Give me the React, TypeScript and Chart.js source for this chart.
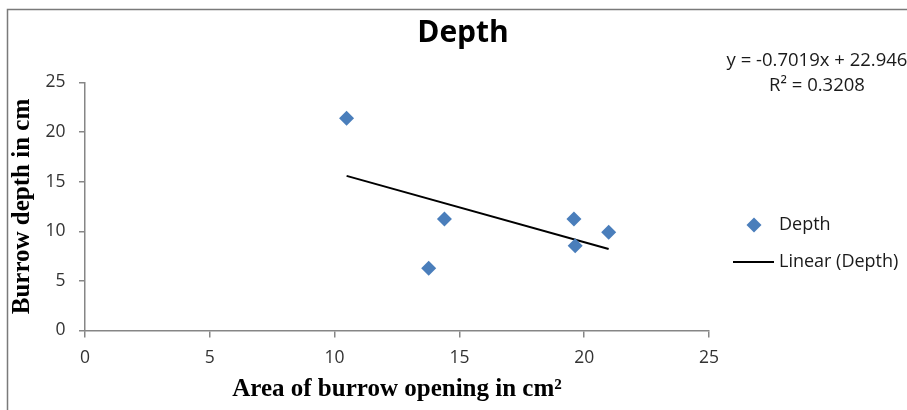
import React, { useEffect, useRef } from "react";
import { Chart, registerables } from "chart.js";

Chart.register(...registerables);

// ---- data ----
const areaValues = [10.48, 14.4, 13.77, 19.59, 19.64, 20.98];
const depthValues = [21.39, 11.24, 6.27, 11.24, 8.55, 9.9];
const trendSlope = -0.7019;
const trendIntercept = 22.946;
const rSquared = 0.3208;
const xTickValues = [0, 5, 10, 15, 20, 25];
const yTickValues = [0, 5, 10, 15, 20, 25];
const chartTitle = "Depth";
const seriesName = "Depth";
const trendName = "Linear (Depth)";
const xAxisTitle = "Area of burrow opening in cm²";
const yAxisTitle = "Burrow depth in cm";

const W = 907;
const H = 410;
const SANS = "'Open Sans', sans-serif";
const SERIF = "'Liberation Serif', 'Times New Roman', serif";
const BLUE = "#4A7EBB";
const AXIS = "#868686";

export default function App() {
  const ref = useRef<HTMLCanvasElement | null>(null);

  useEffect(() => {
    document.body.style.margin = "0";
    const canvas = ref.current;
    if (!canvas) return;

    const xMin = Math.min(...areaValues);
    const xMax = Math.max(...areaValues);
    const trendData = [xMin, xMax].map((x) => ({ x, y: trendSlope * x + trendIntercept }));
    const points = areaValues.map((x, i) => ({ x, y: depthValues[i] }));

    const decor = {
      id: "decor",
      afterDraw(chart: any) {
        const ctx = chart.ctx as CanvasRenderingContext2D;
        ctx.save();
        // outer border
        ctx.strokeStyle = "#7a7a7a";
        ctx.lineWidth = 1.5;
        ctx.beginPath();
        ctx.moveTo(7.5, H + 5);
        ctx.lineTo(7.5, 9.5);
        ctx.lineTo(W + 5, 9.5);
        ctx.stroke();

        // title
        ctx.fillStyle = "#000";
        ctx.font = `bold 30px ${SANS}`;
        ctx.textAlign = "center";
        ctx.textBaseline = "middle";
        ctx.fillText(chartTitle, 463, 33);

        // trendline equation
        ctx.font = `18.5px ${SANS}`;
        ctx.fillStyle = "#1a1a1a";
        const sign = trendIntercept >= 0 ? "+" : "-";
        ctx.fillText(`y = ${trendSlope}x ${sign} ${Math.abs(trendIntercept)}`, 817, 61);
        ctx.fillText(`R² = ${rSquared}`, 817, 86);

        // legend
        ctx.fillStyle = BLUE;
        ctx.beginPath();
        const cx = 754, cy = 225, r = 7.5;
        ctx.moveTo(cx, cy - r);
        ctx.lineTo(cx + r, cy);
        ctx.lineTo(cx, cy + r);
        ctx.lineTo(cx - r, cy);
        ctx.closePath();
        ctx.fill();
        ctx.strokeStyle = "#000";
        ctx.lineWidth = 2;
        ctx.beginPath();
        ctx.moveTo(733, 262);
        ctx.lineTo(774, 262);
        ctx.stroke();
        ctx.fillStyle = "#1a1a1a";
        ctx.textAlign = "left";
        ctx.font = `18px ${SANS}`;
        ctx.fillText(seriesName, 779, 225);
        ctx.fillText(trendName, 779, 262);
        ctx.restore();
      },
    };

    const chart = new Chart(canvas, {
      type: "scatter",
      data: {
        datasets: [
          {
            label: seriesName,
            data: points,
            pointStyle: "rectRot",
            pointRadius: 7.5,
            pointHoverRadius: 7.5,
            backgroundColor: BLUE,
            borderColor: BLUE,
            borderWidth: 0,
            order: 1,
          },
          {
            type: "line",
            label: trendName,
            data: trendData,
            borderColor: "#000",
            borderWidth: 2,
            pointRadius: 0,
            fill: false,
            showLine: true,
            order: 2,
          } as any,
        ],
      },
      options: {
        responsive: false,
        animation: false,
        devicePixelRatio: 1,
        layout: { padding: { left: 8, right: 198, top: 82.5, bottom: 0 } },
        plugins: {
          legend: { display: false },
          title: { display: false },
          tooltip: { enabled: false },
        },
        scales: {
          x: {
            type: "linear",
            min: 0,
            max: 25,
            afterFit: (s: any) => {
              s.height = 79.5;
            },
            afterBuildTicks: (s: any) => {
              s.ticks = xTickValues.map((v) => ({ value: v }));
            },
            grid: { drawOnChartArea: false, drawTicks: true, tickLength: 7, color: AXIS, lineWidth: 1.5 },
            border: { color: AXIS, width: 1.5 },
            ticks: { color: "#333333", font: { family: SANS, size: 17.5 }, padding: 10, maxRotation: 0 },
            title: {
              display: true,
              text: xAxisTitle,
              color: "#000",
              font: { family: SERIF, size: 25, weight: "bold" },
              padding: { top: 0, bottom: 5 },
            },
          },
          y: {
            type: "linear",
            min: 0,
            max: 25,
            afterFit: (s: any) => {
              s.width = 77;
            },
            afterBuildTicks: (s: any) => {
              s.ticks = yTickValues.map((v) => ({ value: v }));
            },
            grid: { drawOnChartArea: false, drawTicks: true, tickLength: 6, color: AXIS, lineWidth: 1.5 },
            border: { color: AXIS, width: 1.5 },
            ticks: { color: "#333333", font: { family: SANS, size: 17.5 }, padding: 13.5 },
            title: {
              display: true,
              text: yAxisTitle,
              color: "#000",
              font: { family: SERIF, size: 25, weight: "bold" },
              padding: { top: 0, bottom: 0 },
            },
          },
        },
      },
      plugins: [decor],
    });

    return () => chart.destroy();
  }, []);

  return (
    <div style={{ width: W, height: H, background: "#fff" }}>
      <canvas ref={ref} width={W} height={H} style={{ display: "block" }} />
    </div>
  );
}
